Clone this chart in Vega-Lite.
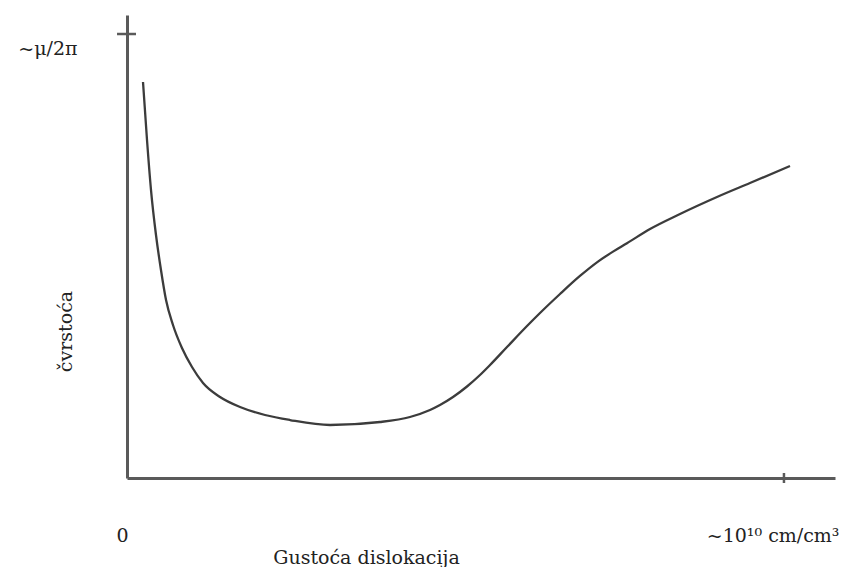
{
  "$schema": "https://vega.github.io/schema/vega-lite/v6.json",
  "width": 708,
  "height": 463,
  "autosize": "none",
  "padding": {"left": 127, "top": 15, "right": 13, "bottom": 89},
  "background": "white",
  "config": {
    "view": {"stroke": null},
    "font": "DejaVu Serif",
    "axis": {"domainColor": "#5a5a5a", "domainWidth": 3, "grid": false, "labelFont": "DejaVu Serif", "titleFont": "DejaVu Serif"}
  },
  "datasets": {
    "curve": [
      {"rho": 0.0244, "s": 0.8919},
      {"rho": 0.0305, "s": 0.7613},
      {"rho": 0.0366, "s": 0.6486},
      {"rho": 0.0442, "s": 0.5473},
      {"rho": 0.0518, "s": 0.4685},
      {"rho": 0.0595, "s": 0.4009},
      {"rho": 0.0701, "s": 0.3446},
      {"rho": 0.0838, "s": 0.2928},
      {"rho": 0.0991, "s": 0.25},
      {"rho": 0.1159, "s": 0.214},
      {"rho": 0.1418, "s": 0.1824},
      {"rho": 0.1723, "s": 0.1599},
      {"rho": 0.2104, "s": 0.1419},
      {"rho": 0.2485, "s": 0.1306},
      {"rho": 0.3095, "s": 0.1194},
      {"rho": 0.3857, "s": 0.1261},
      {"rho": 0.4314, "s": 0.1374},
      {"rho": 0.4619, "s": 0.1532},
      {"rho": 0.4771, "s": 0.1644},
      {"rho": 0.497, "s": 0.1824},
      {"rho": 0.5183, "s": 0.2061},
      {"rho": 0.5381, "s": 0.232},
      {"rho": 0.5534, "s": 0.2545},
      {"rho": 0.5793, "s": 0.295},
      {"rho": 0.6098, "s": 0.3423},
      {"rho": 0.6296, "s": 0.3716},
      {"rho": 0.6601, "s": 0.4144},
      {"rho": 0.6905, "s": 0.455},
      {"rho": 0.718, "s": 0.4874},
      {"rho": 0.7409, "s": 0.5099},
      {"rho": 0.7622, "s": 0.5288},
      {"rho": 0.7973, "s": 0.5608},
      {"rho": 0.843, "s": 0.5946},
      {"rho": 0.8994, "s": 0.6329},
      {"rho": 0.9497, "s": 0.6644},
      {"rho": 1.0107, "s": 0.7027}
    ],
    "ticks": [
      {"x": -0.0152, "x2": 0.0137, "y": 1, "y2": 1},
      {"x": 1.0015, "x2": 1.0015, "y": -0.0113, "y2": 0.0113}
    ]
  },
  "layer": [
    {
      "data": {"name": "curve"},
      "mark": {"type": "line", "interpolate": "monotone", "stroke": "#3c3c3c", "strokeWidth": 2.3, "clip": false},
      "encoding": {
        "x": {
          "field": "rho", "type": "quantitative",
          "scale": {"domain": [0, 1.0793], "nice": false, "zero": false},
          "axis": {
            "values": [0, 1],
            "labelExpr": "datum.value == 0 ? '0' : '~10¹⁰ cm/cm³'",
            "ticks": false, "tickSize": 0,
            "labelPadding": 63, "labelBaseline": "alphabetic",
            "labelFontSize": 19, "labelColor": "#222", "labelFlush": false, "labelOverlap": false,
            "labelAlign": {"condition": {"test": "datum.value == 1", "value": "right"}, "value": "center"},
            "labelOffset": {"condition": {"test": "datum.value == 1", "value": 56}, "value": -5},
            "title": "Gustoća dislokacija", "titleFontSize": 19, "titleFontWeight": "normal", "titleColor": "#222",
            "titleX": 239, "titleY": 79, "titleBaseline": "middle", "titleAlign": "center"
          }
        },
        "y": {
          "field": "s", "type": "quantitative",
          "scale": {"domain": [0, 1.0428], "nice": false, "zero": false},
          "axis": {
            "values": [1],
            "labelExpr": "'~μ/2π'",
            "ticks": false, "tickSize": 0,
            "labelPadding": 50, "labelOffset": 14, "labelBaseline": "middle",
            "labelFontSize": 19, "labelColor": "#222",
            "title": "čvrstoća", "titleFontSize": 19, "titleFontWeight": "normal", "titleColor": "#222",
            "titleX": -62, "titleY": 316, "titleAngle": 270, "titleBaseline": "middle", "titleAlign": "center"
          }
        }
      }
    },
    {
      "data": {"name": "ticks"},
      "mark": {"type": "rule", "stroke": "#5a5a5a", "strokeWidth": 2.5, "clip": false},
      "encoding": {
        "x": {"field": "x", "type": "quantitative"},
        "x2": {"field": "x2"},
        "y": {"field": "y", "type": "quantitative"},
        "y2": {"field": "y2"}
      }
    }
  ]
}
